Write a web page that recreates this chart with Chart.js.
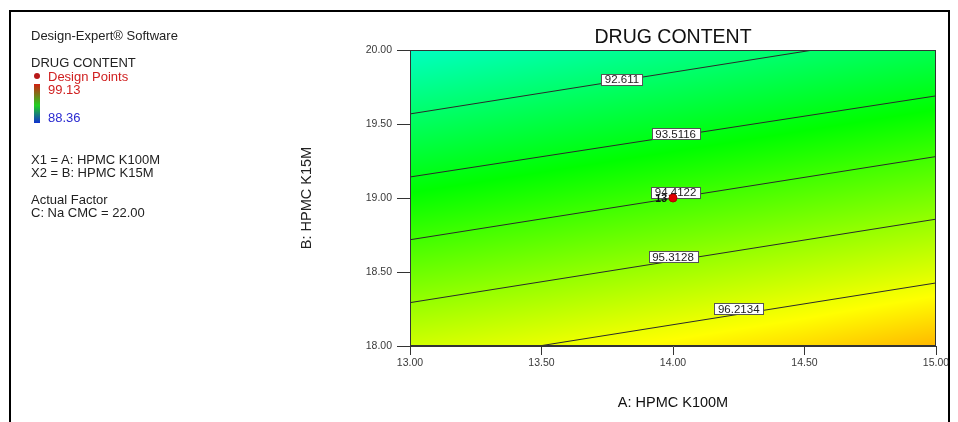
<!DOCTYPE html>
<html>
<head>
<meta charset="utf-8">
<script src="https://cdn.jsdelivr.net/npm/chart.js@4"></script>
<style>
  body { margin: 0; background: #fff; font-family: "Liberation Sans", Arial, sans-serif; }
  #wrap { position: relative; width: 958px; height: 422px; overflow: hidden; }
  #frame { position: absolute; left: 9px; top: 10px; width: 937px; height: 420px;
           border: 2px solid #000; border-bottom: none; }
  canvas { position: absolute; left: 0; top: 0; }
  .t { position: absolute; font-size: 13px; line-height: 15px; color: #222; white-space: nowrap; }
  .red { color: #d02020; }
  .blue { color: #2a2ad0; }
  #dot { position: absolute; left: 34px; top: 73px; width: 6px; height: 6px; border-radius: 50%; background: #b81818; }
  #bar { position: absolute; left: 34px; top: 84px; width: 6px; height: 39px;
         background: linear-gradient(#d02010, #20d020 55%, #1030d0); }
</style>
</head>
<body>
<div id="wrap">
  <canvas id="grafico" width="958" height="422"></canvas>
  <div id="frame"></div>
  <div class="t" style="left:31px; top:28px;">Design-Expert® Software</div>
  <div class="t" style="left:31px; top:54.5px;">DRUG CONTENT</div>
  <div id="dot"></div>
  <div class="t red" style="left:48px; top:68.5px;">Design Points</div>
  <div id="bar"></div>
  <div class="t red" style="left:48px; top:81.5px;">99.13</div>
  <div class="t blue" style="left:48px; top:109.5px;">88.36</div>
  <div class="t" style="left:31px; top:151.5px;">X1 = A: HPMC K100M</div>
  <div class="t" style="left:31px; top:164.5px;">X2 = B: HPMC K15M</div>
  <div class="t" style="left:31px; top:192px;">Actual Factor</div>
  <div class="t" style="left:31px; top:204.5px;">C: Na CMC = 22.00</div>
</div>
<script>
// Ejes y ticks
const xTicks = [13, 13.5, 14, 14.5, 15];
const yTicks = [18, 18.5, 19, 19.5, 20];

// Superficie de respuesta (filas = gridY, columnas = gridX)
const gridX = [13, 13.5, 14, 14.5, 15];
const gridY = [18, 18.5, 19, 19.5, 20];
const gridZ = [
  [95.94, 96.23, 96.53, 96.83, 97.20],
  [94.88, 95.17, 95.47, 95.77, 96.07],
  [93.82, 94.11, 94.41, 94.71, 95.01],
  [92.76, 93.06, 93.35, 93.65, 93.95],
  [91.70, 92.00, 92.29, 92.59, 92.89]
];
const zMin = 88.36;
const zMax = 99.13;

// Líneas de contorno (extremos en unidades de datos)
const contourLevels = [92.611, 93.5116, 94.4122, 95.3128, 96.2134];
const contourFromX = [13, 13, 13, 13, 13.49];
const contourFromY = [19.568, 19.142, 18.718, 18.293, 18];
const contourToX = [14.533, 15, 15, 15, 15];
const contourToY = [20, 19.69, 19.28, 18.857, 18.426];
const contourLabelX = [13.806, 14.01, 14.01, 14.0, 14.25];
const contourLabelY = [19.80, 19.43, 19.035, 18.60, 18.25];

// Puntos de diseño
const designX = [14];
const designY = [19];
const designCount = [13];

// Mapa de colores (azul -> cian -> verde -> amarillo -> rojo)
const colorStops = [0, 0.25, 0.5, 0.75, 1];
const colorRGB = [[0, 0, 255], [0, 255, 255], [0, 255, 0], [255, 255, 0], [255, 0, 0]];

function colorFor(z) {
  let f = (z - zMin) / (zMax - zMin);
  f = Math.max(0, Math.min(1, f));
  let k = 0;
  while (k < colorStops.length - 2 && f > colorStops[k + 1]) k++;
  const t = (f - colorStops[k]) / (colorStops[k + 1] - colorStops[k]);
  const a = colorRGB[k], b = colorRGB[k + 1];
  return [a[0] + (b[0] - a[0]) * t, a[1] + (b[1] - a[1]) * t, a[2] + (b[2] - a[2]) * t];
}

function findCell(arr, v) {
  let i = 0;
  while (i < arr.length - 2 && v > arr[i + 1]) i++;
  return i;
}

function surface(xv, yv) {
  const i = findCell(gridX, xv), j = findCell(gridY, yv);
  const tx = (xv - gridX[i]) / (gridX[i + 1] - gridX[i]);
  const ty = (yv - gridY[j]) / (gridY[j + 1] - gridY[j]);
  const z00 = gridZ[j][i], z10 = gridZ[j][i + 1], z01 = gridZ[j + 1][i], z11 = gridZ[j + 1][i + 1];
  return z00 * (1 - tx) * (1 - ty) + z10 * tx * (1 - ty) + z01 * (1 - tx) * ty + z11 * tx * ty;
}

// Plugin: relleno de color del área del gráfico
const campoColor = {
  id: 'campoColor',
  beforeDatasetsDraw(chart) {
    const { ctx, chartArea: a, scales: { x, y } } = chart;
    const left = Math.round(a.left), top = Math.round(a.top);
    const w = Math.round(a.right) - left, h = Math.round(a.bottom) - top;
    const img = ctx.createImageData(w, h);
    for (let j = 0; j < h; j++) {
      const yv = y.getValueForPixel(top + j + 0.5);
      for (let i = 0; i < w; i++) {
        const xv = x.getValueForPixel(left + i + 0.5);
        const c = colorFor(surface(xv, yv));
        const p = (j * w + i) * 4;
        img.data[p] = c[0]; img.data[p + 1] = c[1]; img.data[p + 2] = c[2]; img.data[p + 3] = 255;
      }
    }
    ctx.putImageData(img, left, top);
  },
  beforeDatasetDraw(chart, args) {
    if (args.index !== 0) return;
    // Etiquetas de contorno (debajo del punto de diseño)
    const { ctx, scales: { x, y } } = chart;
    ctx.save();
    ctx.font = '11.5px "Liberation Sans", Arial, sans-serif';
    ctx.textAlign = 'center';
    ctx.textBaseline = 'middle';
    contourLevels.forEach((lvl, i) => {
      const px = x.getPixelForValue(contourLabelX[i]);
      const py = y.getPixelForValue(contourLabelY[i]);
      const txt = String(lvl);
      const tw = Math.round(ctx.measureText(txt).width + 7);
      const bx = Math.round(px - tw / 2) + 0.5, by = Math.round(py - 6) + 0.5;
      ctx.fillStyle = '#fff';
      ctx.fillRect(bx, by, tw, 11);
      ctx.strokeStyle = '#555';
      ctx.lineWidth = 1;
      ctx.strokeRect(bx, by, tw, 11);
      ctx.fillStyle = '#222';
      ctx.fillText(txt, px, py + 0.5);
    });
    ctx.restore();
  },
  afterDatasetsDraw(chart) {
    const { ctx, chartArea: a, scales: { x, y } } = chart;
    ctx.save();
    ctx.font = 'bold 10.5px "Liberation Sans", Arial, sans-serif';
    ctx.fillStyle = '#111';
    ctx.textAlign = 'right';
    ctx.textBaseline = 'middle';
    designX.forEach((dx, i) => {
      ctx.fillText(String(designCount[i]), x.getPixelForValue(dx) - 6, y.getPixelForValue(designY[i]) + 1);
    });
    // Borde del área del gráfico
    ctx.strokeStyle = '#333';
    ctx.lineWidth = 1;
    ctx.strokeRect(Math.round(a.left) + 0.5, Math.round(a.top) + 0.5,
      Math.round(a.right - a.left) - 1, Math.round(a.bottom - a.top) - 1);
    ctx.restore();
  }
};

Chart.defaults.font.family = '"Liberation Sans", Arial, sans-serif';

const datasets = [{
  label: 'Design Points',
  data: designX.map((v, i) => ({ x: v, y: designY[i] })),
  pointRadius: 4,
  pointBackgroundColor: '#e00000',
  pointBorderColor: '#b00000',
  pointBorderWidth: 1
}];
contourLevels.forEach((lvl, i) => {
  datasets.push({
    label: String(lvl),
    data: [{ x: contourFromX[i], y: contourFromY[i] }, { x: contourToX[i], y: contourToY[i] }],
    showLine: true,
    borderColor: '#2a2a2a',
    borderWidth: 1,
    pointRadius: 0
  });
});

new Chart(document.getElementById('grafico').getContext('2d'), {
  type: 'scatter',
  data: { datasets: datasets },
  plugins: [campoColor],
  options: {
    responsive: false,
    animation: false,
    events: [],
    layout: { padding: { left: 298, right: 22, top: 0, bottom: 0 } },
    plugins: {
      legend: { display: false },
      tooltip: { enabled: false },
      title: {
        display: true,
        text: 'DRUG CONTENT',
        fullSize: false,
        color: '#111',
        font: { size: 19.5, weight: 'normal' },
        padding: { top: 26.3, bottom: 0.3 }
      }
    },
    scales: {
      x: {
        type: 'linear',
        min: 13, max: 15,
        afterBuildTicks: s => { s.ticks = xTicks.map(v => ({ value: v })); },
        afterFit: s => { s.height = 76; },
        ticks: { callback: v => Number(v).toFixed(2), font: { size: 10.5 }, color: '#3a3a3a', padding: 2, maxRotation: 0 },
        grid: { drawOnChartArea: false, tickLength: 9, color: '#333' },
        border: { color: '#333' },
        title: { display: true, text: 'A: HPMC K100M', color: '#111', font: { size: 14.5 }, padding: { top: 0, bottom: 10.3 } }
      },
      y: {
        type: 'linear',
        min: 18, max: 20,
        afterBuildTicks: s => { s.ticks = yTicks.map(v => ({ value: v })); },
        afterFit: s => { s.width = 112; },
        ticks: { callback: v => Number(v).toFixed(2), font: { size: 10.5 }, color: '#3a3a3a', padding: 5 },
        grid: { drawOnChartArea: false, tickLength: 13, color: '#333' },
        border: { color: '#333' },
        title: { display: true, text: 'B: HPMC K15M', color: '#222', font: { size: 14.5 }, padding: { top: 0, bottom: 0 } }
      }
    }
  }
});
</script>
</body>
</html>
